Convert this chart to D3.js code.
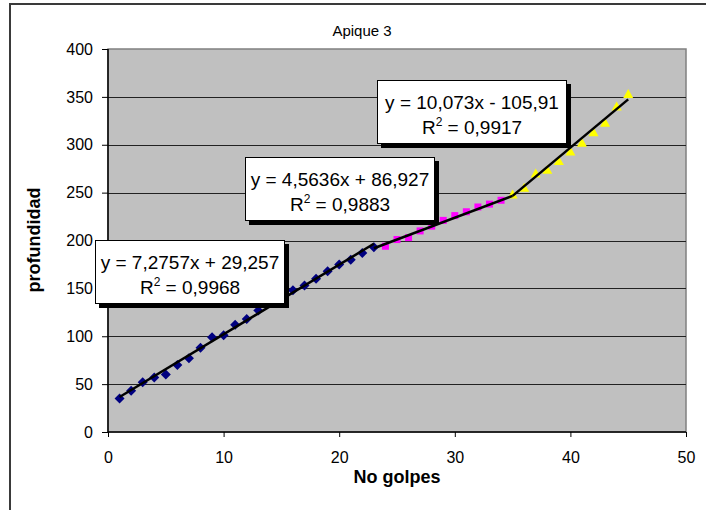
<!DOCTYPE html>
<html><head><meta charset="utf-8">
<script src="https://cdn.jsdelivr.net/npm/d3@7"></script>
<style>body{margin:0;background:#fff}svg{display:block}</style>
</head><body>
<svg id="c" width="706" height="510"></svg>
<script>
const title = "Apique 3";
const xTicks = [0, 10, 20, 30, 40, 50];
const yTicks = [0, 50, 100, 150, 200, 250, 300, 350, 400];
const blueX = [1,2,3,4,5,6,7,8,9,10,11,12,13,14,15,16,17,18,19,20,21,22,23];
const blueY = [35,43,52,57,60,70,77,88,99,101,112,118,127,135,142,148,153,160,168,175,180,187,193];
const magX = [24,25,26,27,28,29,30,31,32,33,34];
const magY = [194,201,203,210,215,221,226,230,235,238,242];
const yelX = [35,36,37,38,39,40,41,42,43,44,45];
const yelY = [248,255,270,274,283,293,302,313,323,340,353];
const fitSlopes = [7.2757, 4.5636, 10.073];
const fitIntercepts = [29.257, 86.927, -105.91];
const fitFrom = [1, 23, 35];
const fitTo = [23, 35, 45];
const fitEq = ["y = 7,2757x + 29,257", "y = 4,5636x + 86,927", "y = 10,073x - 105,91"];
const fitR2 = ["0,9968", "0,9883", "0,9917"];

const svg = d3.select("#c");
const F = "'Liberation Sans', Arial, sans-serif";
const L = 108, R = 686, T = 49, B = 432;
const x = d3.scaleLinear().domain([0, 50]).range([L, R]);
const y = d3.scaleLinear().domain([0, 400]).range([B, T]);

// outer chart border
svg.append("rect").attr("x", 10).attr("y", 4).attr("width", 720).attr("height", 520)
  .attr("fill", "#fff").attr("stroke", "#3a3a3a").attr("stroke-width", 2);

// plot area
svg.append("rect").attr("x", L).attr("y", T).attr("width", R - L).attr("height", B - T)
  .attr("fill", "#c0c0c0").attr("stroke", "#808080").attr("stroke-width", 1.5);

// gridlines
svg.append("g").selectAll("line").data(yTicks.filter(d => d > 0 && d < 400)).join("line")
  .attr("x1", L).attr("x2", R).attr("y1", d => Math.round(y(d)) + 0.5).attr("y2", d => Math.round(y(d)) + 0.5)
  .attr("stroke", "#222").attr("stroke-width", 1);

// axes
const yAxis = svg.append("g").attr("transform", `translate(${L},0)`)
  .call(d3.axisLeft(y).tickValues(yTicks).tickSize(6).tickPadding(9).tickFormat(d3.format("d")));
const xAxis = svg.append("g").attr("transform", `translate(0,${B})`)
  .call(d3.axisBottom(x).tickValues(xTicks).tickSize(5).tickPadding(15).tickFormat(d3.format("d")));
[yAxis, xAxis].forEach(g => {
  g.select(".domain").attr("stroke", "#000").attr("stroke-width", 1.5);
  g.selectAll(".tick line").attr("stroke", "#000");
  g.selectAll("text").attr("font-family", F).attr("font-size", 16).attr("fill", "#000");
});
xAxis.select(".domain").attr("d", `M${L},0H${R}`);
yAxis.select(".domain").attr("d", `M0,${B}V${T}`);

// title & axis titles
svg.append("text").attr("x", 362).attr("y", 36).attr("text-anchor", "middle")
  .attr("font-family", F).attr("font-size", 15).text(title);
svg.append("text").attr("x", 397).attr("y", 483).attr("text-anchor", "middle")
  .attr("font-family", F).attr("font-size", 18).attr("font-weight", "bold").text("No golpes");
svg.append("text").attr("transform", "translate(40,240) rotate(-90)").attr("text-anchor", "middle")
  .attr("font-family", F).attr("font-size", 18).attr("font-weight", "bold").text("profundidad");

// markers
const gm = svg.append("g");
const magData = magX.map((d, i) => [d, magY[i]]);
gm.selectAll("rect.m").data(magData).join("rect").attr("class", "m")
  .attr("x", d => x(d[0]) - 3.5).attr("y", d => y(d[1]) - 3.5).attr("width", 7).attr("height", 7)
  .attr("fill", "#ff00ff");
const yelData = yelX.map((d, i) => [d, yelY[i]]);
gm.selectAll("path.t").data(yelData).join("path").attr("class", "t")
  .attr("d", d => { const cx = x(d[0]), cy = y(d[1]); return `M${cx},${cy - 5}L${cx + 5},${cy + 4}L${cx - 5},${cy + 4}Z`; })
  .attr("fill", "#ffff00");
const blueData = blueX.map((d, i) => [d, blueY[i]]);
gm.selectAll("path.d").data(blueData).join("path").attr("class", "d")
  .attr("d", d => { const cx = x(d[0]), cy = y(d[1]); return `M${cx},${cy - 5}L${cx + 5},${cy}L${cx},${cy + 5}L${cx - 5},${cy}Z`; })
  .attr("fill", "#000080");

// trendlines
fitSlopes.forEach((m, i) => {
  const a = fitFrom[i], b = fitTo[i];
  svg.append("line").attr("x1", x(a)).attr("y1", y(m * a + fitIntercepts[i]))
    .attr("x2", x(b)).attr("y2", y(m * b + fitIntercepts[i]))
    .attr("stroke", "#000").attr("stroke-width", 2.5);
});

// equation labels
const boxes = [[95, 240], [245, 157], [377, 80]];
boxes.forEach((bx, i) => {
  const g = svg.append("g").attr("transform", `translate(${bx[0]},${bx[1]})`);
  g.append("rect").attr("x", 4).attr("y", 4).attr("width", 190).attr("height", 64).attr("fill", "#000");
  g.append("rect").attr("x", 0.5).attr("y", 0.5).attr("width", 189).attr("height", 63)
    .attr("fill", "#fff").attr("stroke", "#000").attr("stroke-width", 1);
  g.append("text").attr("x", 95).attr("y", 29).attr("text-anchor", "middle")
    .attr("font-family", F).attr("font-size", 19).text(fitEq[i]);
  const t = g.append("text").attr("x", 95).attr("y", 54).attr("text-anchor", "middle")
    .attr("font-family", F).attr("font-size", 19);
  t.append("tspan").text("R");
  t.append("tspan").attr("dy", -8).attr("font-size", 12).text("2");
  t.append("tspan").attr("dy", 8).text(" = " + fitR2[i]);
});
</script>
</body></html>
